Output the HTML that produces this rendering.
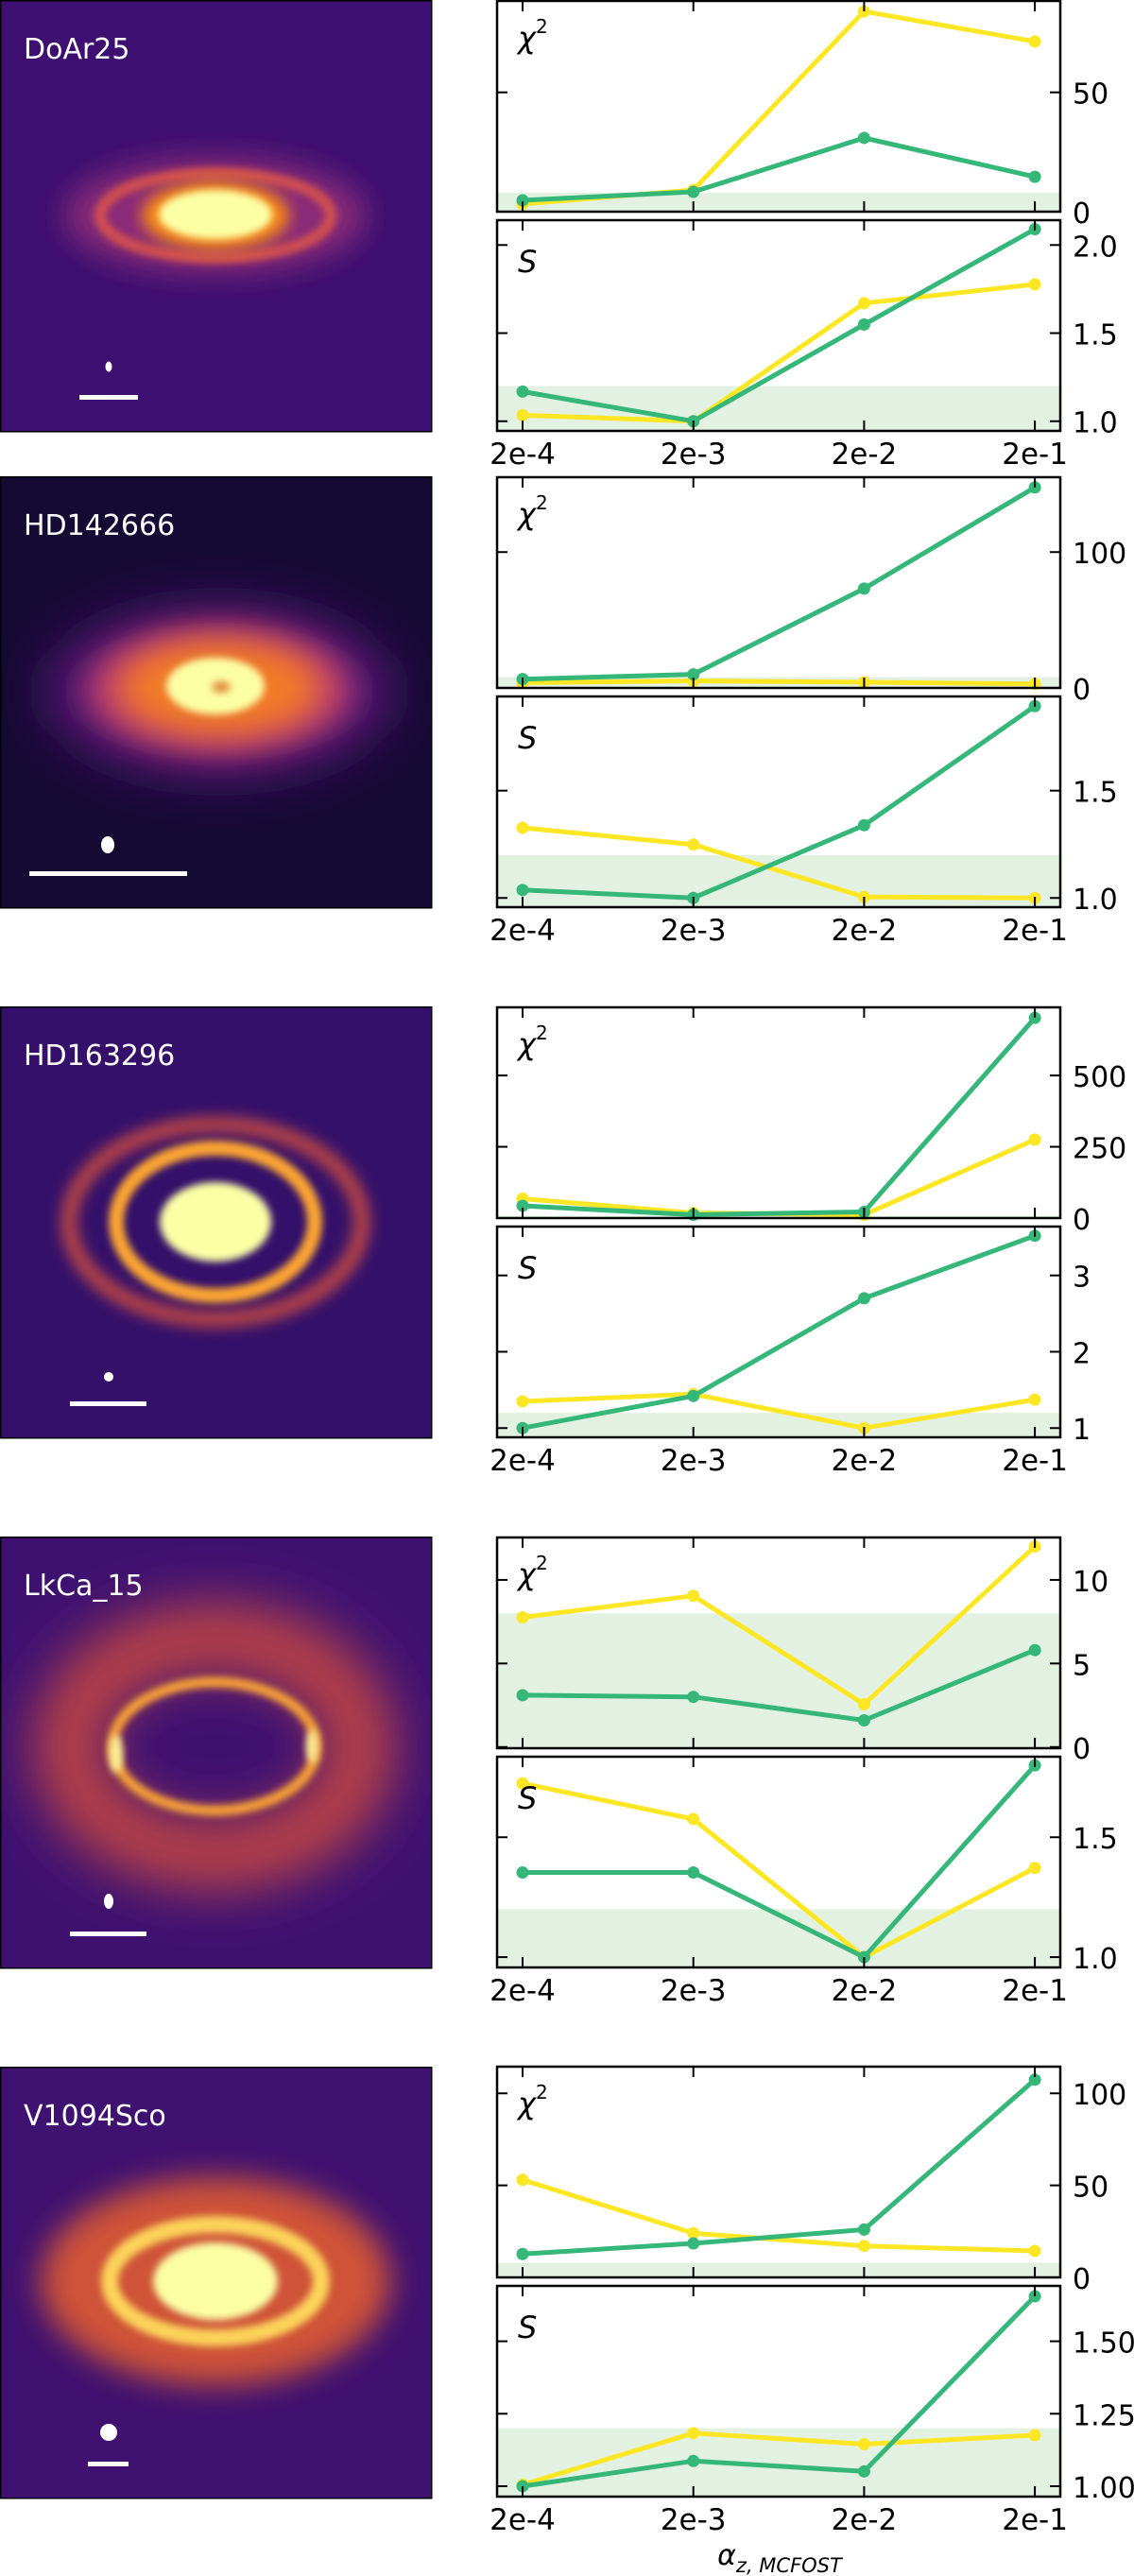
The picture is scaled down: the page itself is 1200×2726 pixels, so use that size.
<!DOCTYPE html>
<html><head><meta charset="utf-8">
<style>
html,body{margin:0;padding:0;background:#fff;}
svg{display:block;}
text{font-family:"DejaVu Sans","Liberation Sans",sans-serif;}
</style></head>
<body>
<svg id="fig" xmlns="http://www.w3.org/2000/svg" width="1200" height="2726" viewBox="0 0 1200 2726">
<defs>
  <filter id="b4" x="-50%" y="-50%" width="200%" height="200%"><feGaussianBlur stdDeviation="4"/></filter>
  <filter id="b8" x="-50%" y="-50%" width="200%" height="200%"><feGaussianBlur stdDeviation="8"/></filter>
  <filter id="b16" x="-50%" y="-50%" width="200%" height="200%"><feGaussianBlur stdDeviation="16"/></filter>
  <filter id="b28" x="-50%" y="-50%" width="200%" height="200%"><feGaussianBlur stdDeviation="28"/></filter>
</defs>
<g id="images"></g>
<g id="plots"></g>
<text x="825" y="2714" text-anchor="middle" font-size="30" font-style="italic">α<tspan font-size="21" dy="8">z, MCFOST</tspan></text>
</svg>
<script>
// ---- chart data ----
const categories = ['2e-4','2e-3','2e-2','2e-1'];
const diskNames = ['DoAr25','HD142666','HD163296','LkCa_15','V1094Sco'];
// chi2 series (yellow, green) per disk
const chiYellow1 = [3.2, 9.1, 83.9, 71.3];
const chiGreen1  = [4.75, 8.3, 30.9, 14.6];
const chiYellow2 = [3.8, 5.2, 4.2, 3.0];
const chiGreen2  = [6.5, 10.0, 73.1, 147.6];
const chiYellow3 = [68, 18, 11.5, 275];
const chiGreen3  = [43, 11.5, 21.4, 702];
const chiYellow4 = [7.76, 9.05, 2.56, 12.0];
const chiGreen4  = [3.1, 3.0, 1.6, 5.8];
const chiYellow5 = [53.0, 24.0, 17.1, 14.4];
const chiGreen5  = [12.7, 18.5, 26.0, 107.4];
// S series
const sYellow1 = [1.034, 1.0, 1.67, 1.777];
const sGreen1  = [1.168, 1.0, 1.549, 2.09];
const sYellow2 = [1.327, 1.249, 1.005, 1.0];
const sGreen2  = [1.037, 1.0, 1.339, 1.894];
const sYellow3 = [1.35, 1.445, 1.0, 1.373];
const sGreen3  = [1.0, 1.42, 2.70, 3.52];
const sYellow4 = [1.725, 1.576, 1.0, 1.372];
const sGreen4  = [1.353, 1.353, 1.0, 1.80];
const sYellow5 = [1.005, 1.183, 1.145, 1.176];
const sGreen5  = [1.0, 1.087, 1.051, 1.655];
// axis limits and ticks
const chiLimits = [[0,88.3],[0,155.1],[0,739],[-0.07,12.54],[0,114.5]];
const sLimits = [[0.945,2.141],[0.957,1.939],[0.879,3.64],[0.957,1.836],[0.964,1.691]];
const chiTicks = [[0,50],[0,100],[0,250,500],[0,5,10],[0,50,100]];
const chiTickLabels = [['0','50'],['0','100'],['0','250','500'],['0','5','10'],['0','50','100']];
const sTicks = [[1.0,1.5,2.0],[1.0,1.5],[1,2,3],[1.0,1.5],[1.0,1.25,1.5]];
const sTickLabels = [['1.0','1.5','2.0'],['1.0','1.5'],['1','2','3'],['1.0','1.5'],['1.00','1.25','1.50']];
const chiBand = 8;
const sBand = 1.2;

const chiY = [chiYellow1,chiYellow2,chiYellow3,chiYellow4,chiYellow5];
const chiG = [chiGreen1,chiGreen2,chiGreen3,chiGreen4,chiGreen5];
const sY = [sYellow1,sYellow2,sYellow3,sYellow4,sYellow5];
const sG = [sGreen1,sGreen2,sGreen3,sGreen4,sGreen5];

const NS = 'http://www.w3.org/2000/svg';
const rowTops = [1, 505, 1066, 1627, 2187];
const PX0 = 526, PX1 = 1122;
const YEL = '#fde725', GRN = '#35b779';
function mk(tag, attrs, parent){ const e=document.createElementNS(NS,tag); for(const k in attrs) e.setAttribute(k,attrs[k]); parent.appendChild(e); return e; }
function xPos(i){ return 553 + i*180.7; }

const plots = document.getElementById('plots');
function drawPlot(top, h, lim, ticks, labels, yel, grn, band, symbol, rowIdx, kind){
  const g = mk('g', {}, plots);
  
  
  const bot = top + h;
  const yPos = v => bot - (v - lim[0]) / (lim[1]-lim[0]) * h;
  const clipId = 'clip'+kind+rowIdx;
  const cp = mk('clipPath', {id:clipId}, g);
  mk('rect', {x:PX0, y:top, width:PX1-PX0, height:h}, cp);
  const band0 = mk('rect', {x:PX0, y:yPos(band), width:PX1-PX0, height:bot-yPos(band), fill:'#e3f1e3', 'clip-path':'url(#'+clipId+')'}, g);
  
  
  [[yel,YEL,'yellow'],[grn,GRN,'green']].forEach(([arr,col,nm])=>{
    const pts = arr.map((v,i)=>xPos(i).toFixed(1)+','+yPos(v).toFixed(1)).join(' ');
    const pl = mk('polyline', {points:pts, fill:'none', stroke:col, 'stroke-width':5, 'stroke-linejoin':'round'}, g);
    
    
    arr.forEach((v,i)=>{
      const c = mk('circle', {cx:xPos(i), cy:yPos(v), r:6.5, fill:col}, g);
      
      
    });
  });
  const fr = mk('rect', {x:PX0, y:top, width:PX1-PX0, height:h, fill:'none', stroke:'#000', 'stroke-width':2.5}, g);
  
  
  categories.forEach((c,i)=>{
    mk('line', {x1:xPos(i), x2:xPos(i), y1:top, y2:top+11, stroke:'#000','stroke-width':2}, g);
    mk('line', {x1:xPos(i), x2:xPos(i), y1:bot, y2:bot-11, stroke:'#000','stroke-width':2}, g);
  });
  ticks.forEach((t,i)=>{
    const y = yPos(t);
    mk('line', {x1:PX0, x2:PX0+11, y1:y, y2:y, stroke:'#000','stroke-width':2}, g);
    mk('line', {x1:PX1, x2:PX1-11, y1:y, y2:y, stroke:'#000','stroke-width':2}, g);
    const tl = mk('text', {x:PX1+13, y:y+12, 'font-size':30}, g);
    tl.textContent = labels[i];
    
    
  });
  const sym = mk('text', {x:548, y:top+(kind==='chi2'?50:55), 'font-size':32, 'font-style':'italic', 'font-family':'"Liberation Serif", serif'}, g);
  if(kind==='chi2'){ sym.textContent='χ'; const sp=mk('tspan',{'font-size':20,dy:-16,'font-style':'normal','font-family':'"DejaVu Sans",sans-serif'},sym); sp.textContent='2'; }
  else sym.textContent = symbol;
  
  
  return bot;
}

rowTops.forEach((top,r)=>{
  drawPlot(top, 223, chiLimits[r], chiTicks[r], chiTickLabels[r], chiY[r], chiG[r], chiBand, 'χ', r, 'chi2');
  const b = drawPlot(top+232, 223, sLimits[r], sTicks[r], sTickLabels[r], sY[r], sG[r], sBand, 'S', r, 'score');
  categories.forEach((c,i)=>{
    const t = mk('text', {x:xPos(i), y:b+35, 'font-size':31, 'text-anchor':'middle'}, plots);
    t.textContent = c;
    
    
  });
});

// ---- disk images ----
const imgs = document.getElementById('images');
const imgTops = [0, 504, 1065, 1626, 2187];
const bgCols = ['#3c0f70','#140a33','#34106a','#3e1171','#3f1170'];
function E(g,cx,cy,rx,ry,attrs){ return mk('ellipse', Object.assign({cx,cy,rx,ry},attrs), g); }
imgTops.forEach((t,r)=>{
  const g = mk('g', {transform:'translate(0,'+t+')'}, imgs);
  
  
  const cp = mk('clipPath', {id:'ic'+r}, g);
  mk('rect', {x:0,y:0,width:457,height:457}, cp);
  const c = mk('g', {'clip-path':'url(#ic'+r+')'}, g);
  mk('rect', {x:0,y:0,width:457,height:457,fill:bgCols[r]}, c);
  let beam=[115,388,3.5,5.5], bar=[84,146];
  if(r===0){
    E(c,228,228,160,62,{fill:'#8a2a78',filter:'url(#b16)'});
    E(c,228,228,122,45,{fill:'none',stroke:'#d24f50','stroke-width':12,filter:'url(#b4)'});
    E(c,228,228,78,37,{fill:'#f78a15',filter:'url(#b8)'});
    E(c,228,227,60,26,{fill:'#fcffa4',filter:'url(#b4)'});
  } else if(r===1){
    E(c,232,228,185,92,{fill:'#5a1678',filter:'url(#b28)'});
    E(c,232,226,140,68,{fill:'#c0406a',filter:'url(#b16)'});
    E(c,232,224,105,50,{fill:'#f17a28',filter:'url(#b16)'});
    E(c,228,222,52,30,{fill:'#fcffa4',filter:'url(#b4)'});
    E(c,234,223,10,6,{fill:'#e08a40',filter:'url(#b4)'});
    beam=[114,390,7,9]; bar=[31,198];
  } else if(r===2){
    E(c,228,228,155,103,{fill:'none',stroke:'#d8513e','stroke-width':14,filter:'url(#b8)'});
    E(c,228,228,105,78,{fill:'none',stroke:'#fca532','stroke-width':16,filter:'url(#b4)'});
    E(c,228,228,59,42,{fill:'#fcffa4',filter:'url(#b4)'});
    beam=[115,392,5,5]; bar=[74,155];
  } else if(r===3){
    E(c,227,222,155,115,{fill:'none',stroke:'#bf4544','stroke-width':70,filter:'url(#b28)'});
    E(c,227,222,108,68,{fill:'none',stroke:'#fca636','stroke-width':11,filter:'url(#b4)'});
    E(c,123,230,7,20,{fill:'#fcf09a',filter:'url(#b4)'});
    E(c,330,222,6,18,{fill:'#fcf09a',filter:'url(#b4)'});
    beam=[115,386,5,8]; bar=[74,155];
  } else {
    E(c,228,227,185,110,{fill:'#cf5238',filter:'url(#b16)'});
    E(c,228,227,112,60,{fill:'none',stroke:'#fcd35a','stroke-width':18,filter:'url(#b4)'});
    E(c,228,227,66,41,{fill:'#fcffa4',filter:'url(#b4)'});
    beam=[115,387,9,9]; bar=[93,136];
  }
  E(c,beam[0],beam[1],beam[2],beam[3],{fill:'#fff'});
  mk('rect', {x:bar[0], y:418, width:bar[1]-bar[0], height:5, fill:'#fff'}, c);
  const lab = mk('text', {x:25, y:62, 'font-size':30, fill:'#fff'}, g);
  lab.textContent = diskNames[r];
  
  
  mk('rect', {x:0.75,y:0.75,width:456,height:456,fill:'none',stroke:'#000','stroke-width':1.5}, g);
});
</script>
</body></html>
